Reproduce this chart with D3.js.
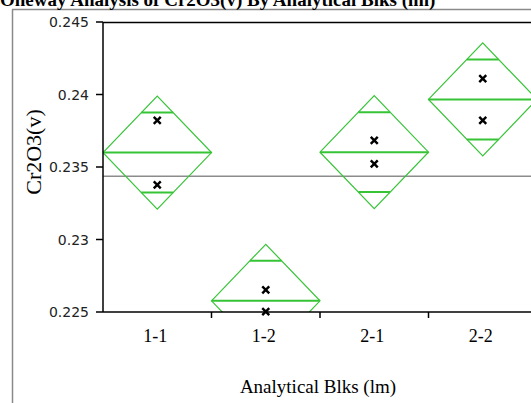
<!DOCTYPE html>
<html>
<head>
<meta charset="utf-8">
<script src="https://cdn.jsdelivr.net/npm/d3@7"></script>
<style>
  body { margin: 0; background: #fff; }
  svg { display: block; }
</style>
</head>
<body>
<div id="chart"></div>
<script>
const categories = ['1-1', '1-2', '2-1', '2-2'];
const groupValues = [
  [0.23822, 0.23377],
  [0.22652, 0.22502],
  [0.23683, 0.23522],
  [0.24110, 0.23822],
];
const ciHalf = 0.0039; // 95% CI half width (diamond half height)
const yTicks = [0.225, 0.23, 0.235, 0.24, 0.245];
const yTickLabels = ['0.225', '0.23', '0.235', '0.24', '0.245'];

const W = 531, H = 403;
const plot = { left: 103, top: 22, right: 537, bottom: 312 };
const GREEN = '#36c436';
const SERIF = 'Liberation Serif, Times New Roman, serif';

const svg = d3.select('#chart').append('svg')
  .attr('width', W)
  .attr('height', H);

// outer frame
svg.append('line').attr('x1', 12.5).attr('x2', 12.5).attr('y1', 9.5).attr('y2', H)
  .attr('stroke', '#8a8a8a').attr('stroke-width', 1.5);
svg.append('line').attr('x1', 12).attr('x2', W).attr('y1', 9.5).attr('y2', 9.5)
  .attr('stroke', '#8a8a8a').attr('stroke-width', 1.5);

// title (clipped at top, as in the original)
svg.append('text')
  .attr('x', 0)
  .attr('y', 5.5)
  .attr('font-family', SERIF)
  .attr('font-weight', 'bold')
  .attr('font-size', '19px')
  .attr('fill', '#000')
  .text('Oneway Analysis of Cr2O3(v) By Analytical Blks (lm)');

// Scales
const x = d3.scaleBand().domain(categories).range([plot.left, plot.right]).padding(0);
const y = d3.scaleLinear().domain([0.225, 0.245]).range([plot.bottom, plot.top]);

svg.append('clipPath').attr('id', 'plotclip')
  .append('rect')
  .attr('x', plot.left).attr('y', plot.top)
  .attr('width', plot.right - plot.left).attr('height', plot.bottom - plot.top);

const g = svg.append('g').attr('clip-path', 'url(#plotclip)');

const means = groupValues.map(v => d3.mean(v));
const grandMean = d3.mean(groupValues.flat());

// grand mean line
g.append('line')
  .attr('x1', plot.left).attr('x2', plot.right)
  .attr('y1', y(grandMean)).attr('y2', y(grandMean))
  .attr('stroke', '#8c8c8c').attr('stroke-width', 1.5);

// means diamonds
const diamonds = g.selectAll('.diamond')
  .data(categories.map((c, i) => ({ cat: c, mean: means[i] })))
  .join('g')
  .attr('class', 'diamond');

diamonds.append('polygon')
  .attr('points', d => {
    const x0 = x(d.cat), x1 = x0 + x.bandwidth(), xc = x0 + x.bandwidth() / 2;
    return [[x0, y(d.mean)], [xc, y(d.mean + ciHalf)], [x1, y(d.mean)], [xc, y(d.mean - ciHalf)]]
      .map(p => p.join(',')).join(' ');
  })
  .attr('fill', 'none')
  .attr('stroke', GREEN)
  .attr('stroke-width', 1.2);

diamonds.append('line')
  .attr('x1', d => x(d.cat)).attr('x2', d => x(d.cat) + x.bandwidth())
  .attr('y1', d => y(d.mean)).attr('y2', d => y(d.mean))
  .attr('stroke', GREEN).attr('stroke-width', 2);

// overlap marks, spanning the diamond at their height
const ovl = ciHalf / Math.SQRT2;
const frac = 1 - ovl / ciHalf;
[1, -1].forEach(s => {
  diamonds.append('line')
    .attr('x1', d => x(d.cat) + x.bandwidth() / 2 * (1 - frac))
    .attr('x2', d => x(d.cat) + x.bandwidth() / 2 * (1 + frac))
    .attr('y1', d => y(d.mean + s * ovl)).attr('y2', d => y(d.mean + s * ovl))
    .attr('stroke', GREEN).attr('stroke-width', 2);
});

// axes
const axisG = svg.append('g');
axisG.append('line')
  .attr('x1', plot.left).attr('x2', W)
  .attr('y1', plot.top + 0.5).attr('y2', plot.top + 0.5)
  .attr('stroke', '#000').attr('stroke-width', 1.5);
axisG.append('line')
  .attr('x1', plot.left).attr('x2', plot.left)
  .attr('y1', plot.top).attr('y2', plot.bottom)
  .attr('stroke', '#000').attr('stroke-width', 1.5);
axisG.append('line')
  .attr('x1', plot.left).attr('x2', W)
  .attr('y1', plot.bottom).attr('y2', plot.bottom)
  .attr('stroke', '#000').attr('stroke-width', 1.5);

// y ticks
axisG.selectAll('.ytick')
  .data(yTicks)
  .join('line')
  .attr('x1', plot.left - 7).attr('x2', plot.left)
  .attr('y1', d => y(d)).attr('y2', d => y(d))
  .attr('stroke', '#000').attr('stroke-width', 1.5);

axisG.selectAll('.ylabel')
  .data(yTicks)
  .join('text')
  .attr('x', 89)
  .attr('y', d => y(d) + 5)
  .attr('text-anchor', 'end')
  .attr('font-family', 'DejaVu Sans, Verdana, sans-serif')
  .attr('font-size', '14px')
  .attr('fill', '#222')
  .text((d, i) => yTickLabels[i]);

// x ticks at band boundaries
axisG.selectAll('.xtick')
  .data(categories.slice(1))
  .join('line')
  .attr('x1', d => x(d)).attr('x2', d => x(d))
  .attr('y1', plot.bottom).attr('y2', plot.bottom + 6)
  .attr('stroke', '#000').attr('stroke-width', 1.5);

axisG.selectAll('.xlabel')
  .data(categories)
  .join('text')
  .attr('x', d => x(d) + x.bandwidth() / 2 - 2)
  .attr('y', 342)
  .attr('text-anchor', 'middle')
  .attr('font-family', SERIF)
  .attr('font-size', '18px')
  .attr('fill', '#000')
  .text(d => d);

// axis titles
svg.append('text')
  .attr('x', 318)
  .attr('y', 393)
  .attr('text-anchor', 'middle')
  .attr('font-family', SERIF)
  .attr('font-size', '19px')
  .attr('fill', '#000')
  .text('Analytical Blks (lm)');

svg.append('text')
  .attr('transform', 'translate(41,152) rotate(-90)')
  .attr('text-anchor', 'middle')
  .attr('font-family', SERIF)
  .attr('font-size', '22px')
  .attr('fill', '#000')
  .text('Cr2O3(v)');

// points (x marks)
const pts = categories.flatMap((c, i) => groupValues[i].map(v => ({ cat: c, v })));
const s = 3.5;
svg.append('g').selectAll('.pt')
  .data(pts)
  .join('path')
  .attr('d', d => {
    const cx = x(d.cat) + x.bandwidth() / 2, cy = y(d.v);
    return `M${cx - s},${cy - s}L${cx + s},${cy + s}M${cx - s},${cy + s}L${cx + s},${cy - s}`;
  })
  .attr('stroke', '#000')
  .attr('stroke-width', 2.4);
</script>
</body>
</html>
